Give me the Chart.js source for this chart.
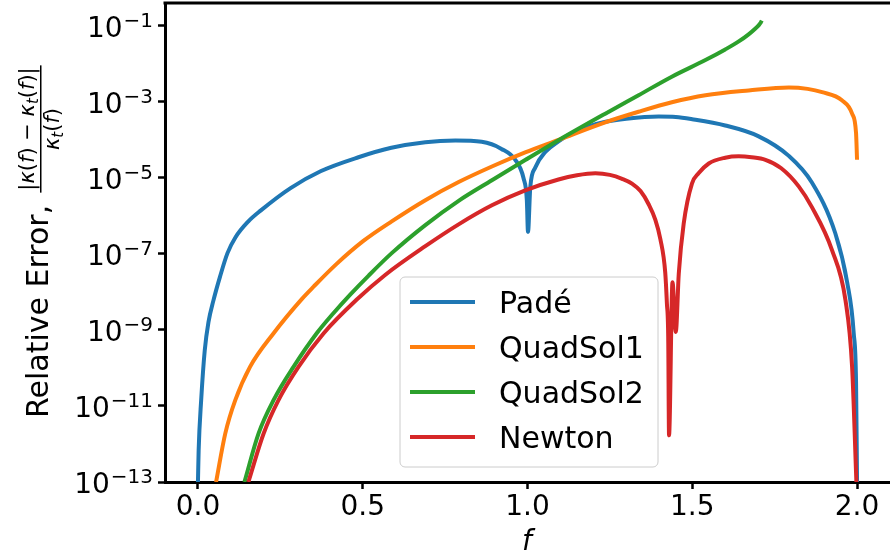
<!DOCTYPE html>
<html>
<head>
<meta charset="utf-8">
<script src="https://cdn.jsdelivr.net/npm/chart.js@4.4.1/dist/chart.umd.min.js"></script>
<style>
  html, body { margin: 0; padding: 0; background: #fff; }
  #wrap { position: relative; width: 890px; height: 558px; }
</style>
</head>
<body>
<div id="wrap"><canvas id="errChart"></canvas></div>
<script>
// values (f, relative error)
const padeF = [0, 0.0021, 0.0097, 0.0206, 0.0319, 0.047, 0.0668, 0.0896, 0.114, 0.153, 0.190, 0.281, 0.372, 0.487, 0.587, 0.690, 0.781, 0.861, 0.921, 0.964, 0.988, 0.998, 1.0015, 1.0085, 1.024, 1.054, 1.094, 1.134, 1.18, 1.237, 1.30, 1.398, 1.45, 1.50, 1.60, 1.70, 1.793, 1.863, 1.934, 1.970, 1.990, 1.997, 2.0];
const padeErr = [1e-13, 6.8e-13, 1.4e-11, 2.9e-10, 1.6e-9, 6.0e-9, 2.5e-8, 1.05e-7, 2.75e-7, 7.2e-7, 1.38e-6, 5.4e-6, 1.5e-5, 3.5e-5, 6.2e-5, 8.7e-5, 9.6e-5, 8.9e-5, 5.8e-5, 2.9e-5, 9.8e-6, 2.6e-6, 3.8e-7, 5.8e-6, 1.9e-5, 4.8e-5, 9.1e-5, 1.5e-4, 2.2e-4, 3.0e-4, 3.6e-4, 4.1e-4, 4.0e-4, 3.5e-4, 2.4e-4, 1.26e-4, 3.8e-5, 7.6e-6, 3.5e-7, 1.8e-8, 8e-10, 4e-11, 1e-13];

const quad1F = [0.055, 0.083, 0.113, 0.158, 0.229, 0.315, 0.351, 0.42, 0.502, 0.588, 0.690, 0.791, 0.892, 0.993, 1.094, 1.236, 1.337, 1.438, 1.540, 1.671, 1.793, 1.85, 1.894, 1.954, 1.985, 1.997, 2.0];
const quad1Err = [1e-13, 1.9e-12, 1.4e-11, 1.07e-10, 8.1e-10, 6.5e-9, 1.38e-8, 5.4e-8, 2.2e-7, 7.2e-7, 2.6e-6, 7.8e-6, 2.0e-5, 4.7e-5, 1.0e-4, 2.9e-4, 5.5e-4, 9.8e-4, 1.5e-3, 2.0e-3, 2.4e-3, 2.2e-3, 1.8e-3, 1.1e-3, 4.9e-4, 1.5e-4, 3.0e-5];

const quad2F = [0.141, 0.184, 0.229, 0.290, 0.361, 0.411, 0.462, 0.518, 0.588, 0.690, 0.791, 0.892, 0.993, 1.094, 1.236, 1.337, 1.438, 1.540, 1.60, 1.641, 1.671, 1.69, 1.702, 1.708, 1.711];
const quad2Err = [1e-13, 1.9e-12, 1.4e-11, 1.07e-10, 8.3e-10, 2.75e-9, 8.5e-9, 2.7e-8, 1.05e-7, 5.75e-7, 2.5e-6, 8.7e-6, 2.95e-5, 9.8e-5, 4.9e-4, 1.5e-3, 4.6e-3, 1.26e-2, 2.4e-2, 3.9e-2, 6.0e-2, 8.3e-2, 0.105, 0.123, 0.138];

const newtonF = [0.153, 0.199, 0.244, 0.305, 0.381, 0.482, 0.568, 0.690, 0.791, 0.892, 0.993, 1.094, 1.15, 1.206, 1.25, 1.287, 1.317, 1.343, 1.368, 1.388, 1.403, 1.418, 1.423, 1.427, 1.4295, 1.440, 1.450, 1.459, 1.474, 1.499, 1.519, 1.55, 1.60, 1.641, 1.68, 1.722, 1.77, 1.823, 1.863, 1.924, 1.965, 1.985, 1.998];
const newtonErr = [1e-13, 1.86e-12, 1.41e-11, 1.07e-10, 8.1e-10, 6.3e-9, 2.8e-8, 1.6e-7, 6.0e-7, 1.9e-6, 4.7e-6, 9.1e-6, 1.17e-5, 1.32e-5, 1.2e-5, 9.5e-6, 7.1e-6, 4.5e-6, 2.0e-6, 7.9e-7, 2.5e-7, 3.2e-8, 5.0e-9, 6.3e-10, 1.7e-12, 1.8e-8, 8.9e-10, 3.0e-8, 6.3e-7, 7.1e-6, 1.32e-5, 2.4e-5, 3.4e-5, 3.7e-5, 3.5e-5, 3.0e-5, 1.8e-5, 6.0e-6, 1.7e-6, 1.26e-7, 6.0e-9, 1.07e-10, 1e-13];

const seriesLabels = ["Padé", "QuadSol1", "QuadSol2", "Newton"];
const seriesColors = ["#1f77b4", "#ff7f0e", "#2ca02c", "#d62728"];
const xTicks = [0.0, 0.5, 1.0, 1.5, 2.0];
const yTickExps = [-1, -3, -5, -7, -9, -11, -13];

const FONT = '"DejaVu Sans", sans-serif';

function toPoints(fs, errs) {
  return fs.map((f, i) => ({ x: f, y: errs[i] }));
}

const allSeries = [
  toPoints(padeF, padeErr),
  toPoints(quad1F, quad1Err),
  toPoints(quad2F, quad2Err),
  toPoints(newtonF, newtonErr),
];

// draws a row of text pieces (normal / italic / subscript) centred at u
function drawRuns(ctx, runs, size, u, v) {
  const fontFor = (r) => {
    if (r[1] === "i") return "italic " + size + "px " + FONT;
    if (r[1] === "s") return "italic " + Math.round(size * 0.7) + "px " + FONT;
    return size + "px " + FONT;
  };
  let total = 0;
  runs.forEach((r) => { ctx.font = fontFor(r); total += ctx.measureText(r[0]).width; });
  let x = u - total / 2;
  ctx.textAlign = "left";
  ctx.textBaseline = "alphabetic";
  runs.forEach((r) => {
    ctx.font = fontFor(r);
    ctx.fillText(r[0], x, r[1] === "s" ? v + size * 0.2 : v);
    x += ctx.measureText(r[0]).width;
  });
  return total;
}

const decorations = {
  id: "decorations",
  afterDraw(chart) {
    const ctx = chart.ctx;
    const ca = chart.chartArea;
    const yScale = chart.scales.y;
    ctx.save();

    // top spine
    ctx.strokeStyle = "#000";
    ctx.lineWidth = 3;
    ctx.beginPath();
    ctx.moveTo(ca.left - 1.5, ca.top);
    ctx.lineTo(ca.right, ca.top);
    ctx.stroke();

    // y tick labels as 10^n
    ctx.fillStyle = "#000";
    yTickExps.forEach((e) => {
      const y = yScale.getPixelForValue(Math.pow(10, e));
      const expText = "\u2212" + Math.abs(e);
      ctx.textAlign = "right";
      ctx.textBaseline = "alphabetic";
      ctx.font = "20px " + FONT;
      const w = ctx.measureText(expText).width;
      ctx.fillText(expText, 153, y + 1);
      ctx.font = "28px " + FONT;
      ctx.fillText("10", 153 - w - 1, y + 11);
    });

    // y axis label
    ctx.save();
    ctx.translate(0, 558);
    ctx.rotate(-Math.PI / 2);
    ctx.font = "30px " + FONT;
    ctx.textAlign = "left";
    ctx.textBaseline = "alphabetic";
    ctx.fillText("Relative Error,", 140, 48);
    const numW = drawRuns(ctx, [["|", "n"], ["\u03ba", "i"], ["(", "n"], ["f", "i"], [")", "n"], [" \u2212 ", "n"],
      ["\u03ba", "i"], ["t", "s"], ["(", "n"], ["f", "i"], [")", "n"], ["|", "n"]], 21, 429, 34);
    ctx.fillRect(429 - numW / 2 - 2, 40, numW + 4, 1.5);
    drawRuns(ctx, [["\u03ba", "i"], ["t", "s"], ["(", "n"], ["f", "i"], [")", "n"]], 21, 429, 59);
    ctx.restore();

    // x axis label
    ctx.font = "italic 28px " + FONT;
    ctx.textAlign = "center";
    ctx.textBaseline = "alphabetic";
    ctx.fillText("f", 527, 550);

    // legend
    const bx = 400, by = 277, bw = 258, bh = 190;
    ctx.beginPath();
    ctx.roundRect(bx, by, bw, bh, 5);
    ctx.fillStyle = "rgba(255,255,255,0.8)";
    ctx.fill();
    ctx.strokeStyle = "#cccccc";
    ctx.lineWidth = 1;
    ctx.stroke();
    chart.data.datasets.forEach((ds, i) => {
      const ly = 302 + i * 45;
      ctx.strokeStyle = ds.borderColor;
      ctx.lineWidth = 4;
      ctx.beginPath();
      ctx.moveTo(410, ly);
      ctx.lineTo(475, ly);
      ctx.stroke();
      ctx.fillStyle = "#000";
      ctx.font = "30px " + FONT;
      ctx.textAlign = "left";
      ctx.textBaseline = "alphabetic";
      ctx.fillText(ds.label, 499, ly + 11);
    });

    ctx.restore();
  },
};

new Chart(document.getElementById("errChart"), {
  type: "line",
  data: {
    datasets: allSeries.map((pts, i) => ({
      label: seriesLabels[i],
      data: pts,
      borderColor: seriesColors[i],
      backgroundColor: seriesColors[i],
      borderWidth: 4,
      pointRadius: 0,
      fill: false,
      cubicInterpolationMode: "monotone",
      borderJoinStyle: "round",
      order: 4 - i,
    })),
  },
  options: {
    responsive: true,
    maintainAspectRatio: false,
    animation: false,
    events: [],
    layout: { padding: { top: 3, right: 0, bottom: 0, left: 0 } },
    plugins: {
      legend: { display: false },
      tooltip: { enabled: false },
    },
    scales: {
      x: {
        type: "linear",
        min: -0.1,
        max: 2.1,
        afterBuildTicks: (s) => { s.ticks = xTicks.map((v) => ({ value: v })); },
        afterFit: (s) => { s.height = 76; },
        ticks: {
          color: "#000",
          font: { family: FONT, size: 28 },
          padding: 2,
          maxRotation: 0,
          autoSkip: false,
          callback: (v) => Number(v).toFixed(1),
        },
        grid: {
          display: true,
          drawOnChartArea: false,
          drawTicks: true,
          tickLength: 7,
          tickWidth: 2.5,
          tickColor: "#000",
        },
        border: { display: true, color: "#000", width: 3 },
      },
      y: {
        type: "logarithmic",
        min: 1e-13,
        max: 0.4,
        afterBuildTicks: (s) => { s.ticks = yTickExps.map((e) => ({ value: Math.pow(10, e) })); },
        afterFit: (s) => { s.width = 165; },
        ticks: { display: false },
        grid: {
          display: true,
          drawOnChartArea: false,
          drawTicks: true,
          tickLength: 7,
          tickWidth: 2.5,
          tickColor: "#000",
        },
        border: { display: true, color: "#000", width: 3 },
      },
    },
  },
  plugins: [decorations],
});
</script>
</body>
</html>
